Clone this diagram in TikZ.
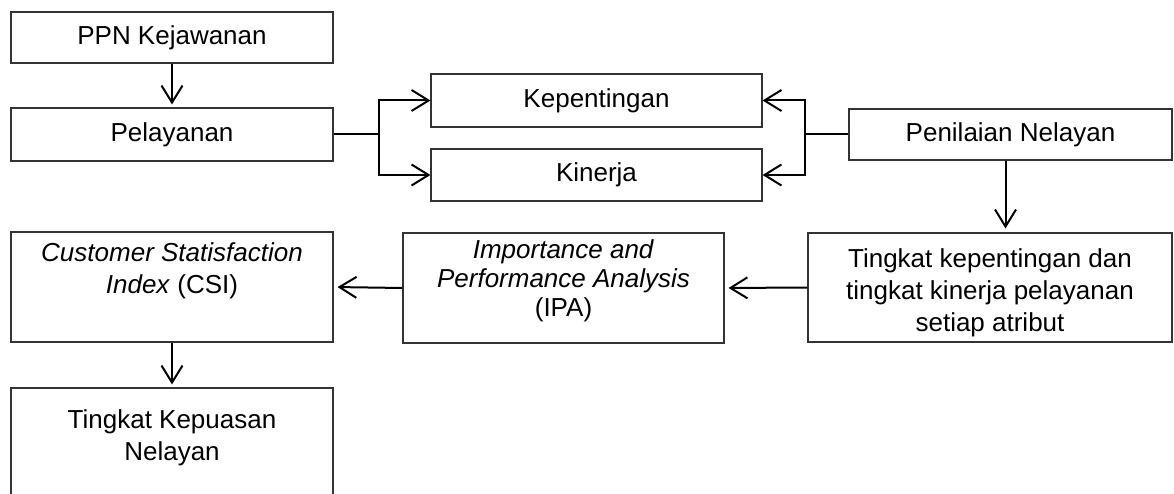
\documentclass[tikz,border=0pt]{standalone}
\usepackage{fontspec}
\setmainfont{Liberation Sans}
\usetikzlibrary{arrows.meta}
\newcommand\boxtext[4]{\parbox[c][#1][t]{#2}{\centering\vspace*{#3}#4}}
\begin{document}
\begin{tikzpicture}[x=1pt,y=-1pt,
  box/.style={draw=black!80, line width=1.1pt, inner sep=0pt, align=center,
    font=\fontsize{26}{32}\selectfont},
  conn/.style={line width=2pt, draw=black},
  arr/.style={conn, -{Straight Barb[length=17pt,width=21pt,line width=2pt]}}
]
\useasboundingbox (0,0) rectangle (1174,494);
\clip (0,0) rectangle (1174,494);

\node[box, minimum width=322pt, minimum height=51pt] (ppn) at (172,37.5) {PPN Kejawanan};
\node[box, minimum width=322pt, minimum height=53pt] (pel) at (172,134.5) {Pelayanan};
\node[box, minimum width=331pt, minimum height=53pt] (kep) at (596.5,100.5) {Kepentingan};
\node[box, minimum width=331pt, minimum height=52pt] (kin) at (596.5,175) {Kinerja};
\node[box, minimum width=323pt, minimum height=51pt] (pen) at (1010.5,134.5) {Penilaian Nelayan};
\node[box] (tk) at (990,287.5) {\boxtext{109pt}{364pt}{16pt}{Tingkat kepentingan dan\\tingkat kinerja pelayanan\\setiap atribut}};
\node[box] (ipa) at (563.5,288) {\boxtext{110pt}{321pt}{7pt}{\fontsize{26}{29}\selectfont\textit{Importance and}\\\textit{Performance Analysis}\\(IPA)}};
\node[box] (csi) at (172,287) {\boxtext{110pt}{322pt}{11pt}{\textit{Customer Statisfaction}\\\textit{Index} (CSI)}};
\node[box] (kp) at (172,448) {\boxtext{120pt}{322pt}{22pt}{Tingkat Kepuasan\\Nelayan}};

\path (pel.east) ++(45,0) coordinate (fl);
\path (pen.west) ++(-43,0) coordinate (fr);

\draw[arr, shorten >=3pt] (ppn.south) -- (pel.north);
\draw[conn] (pel.east) -- (fl);
\draw[arr] (fl) |- (kep.west);
\draw[arr] (fl) |- (kin.west);
\draw[conn] (pen.west) -- (fr);
\draw[arr] (fr) |- (kep.east);
\draw[arr] (fr) |- (kin.east);
\draw[arr, shorten >=4pt] ([xshift=-5pt]pen.south) -- ([xshift=-5pt]pen.south |- tk.north);
\draw[arr, shorten >=4pt] (tk.west) -- (ipa.east);
\draw[arr, shorten >=4pt] (ipa.west) -- (csi.east);
\draw[arr, shorten >=3pt] (csi.south) -- (kp.north);
\end{tikzpicture}
\end{document}
